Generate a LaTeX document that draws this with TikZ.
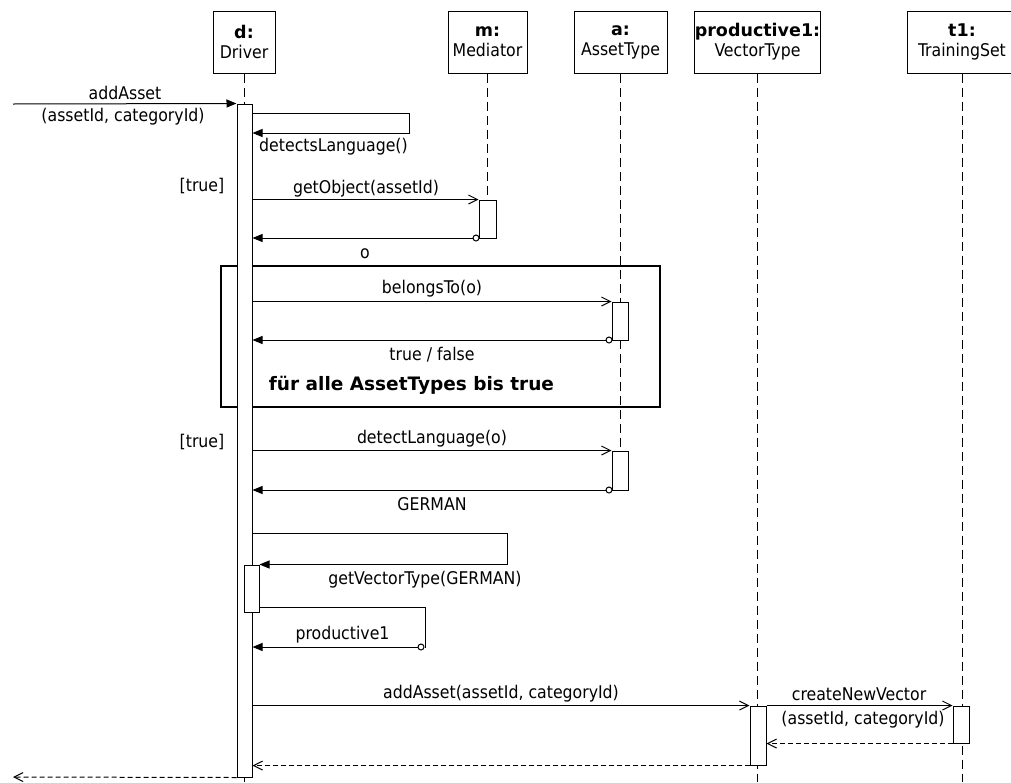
\documentclass[tikz,border=0pt]{standalone}
\usepackage{fontspec}
\setmainfont{DejaVu Sans Condensed}[BoldFont={DejaVu Sans Bold}]
\usetikzlibrary{arrows.meta}

\begin{document}
\begin{tikzpicture}[x=1pt,y=-1pt,
  base/.style={line width=1pt, draw=black},
  obj/.style={base, fill=white, align=center, inner sep=0pt, minimum height=62pt,
    font=\fontsize{17.5}{20}\selectfont},
  bar/.style={base, fill=white, inner sep=0pt},
  lifeline/.style={line width=1pt, dash pattern=on 9pt off 5pt},
  sync/.style={line width=1pt, -{Triangle[length=10pt,width=8pt]}},
  call/.style={line width=1pt, -{Straight Barb[length=9pt,width=9pt,line width=1pt]}},
  ret/.style={line width=1pt, dash pattern=on 5pt off 3pt,
    -{Straight Barb[length=9pt,width=9pt,line width=1pt]}},
  tail/.style={circle, base, fill=white, inner sep=0pt, minimum size=6pt},
  lbl/.style={inner sep=0pt, font=\fontsize{17.5}{20}\selectfont},
  frame/.style={line width=2pt, draw=black, inner sep=0pt}
]
\useasboundingbox (0,0) rectangle (1011,782);
\clip (0,0) rectangle (1011,782);

% participants
\node[obj, minimum width=62pt]  (d) at (244,42)   {\textbf{d:}\\Driver};
\node[obj, minimum width=79pt]  (m) at (487.5,42) {\textbf{m:}\\Mediator};
\node[obj, minimum width=93pt]  (a) at (620.5,42) {\textbf{a:}\\AssetType};
\node[obj, minimum width=126pt] (p) at (757.5,42) {\textbf{productive1:}\\VectorType};
\node[obj, minimum width=110pt] (t) at (962,42)   {\textbf{t1:}\\TrainingSet};

% lifeline ends
\coordinate (dEnd) at (244,782);
\coordinate (mEnd) at (487.5,238);
\coordinate (aEnd) at (620.5,490);
\coordinate (pEnd) at (757.5,782);
\coordinate (tEnd) at (962,782);
\draw[lifeline] (d.south) -- (dEnd);
\draw[lifeline] (m.south) -- (mEnd);
\draw[lifeline] (a.south) -- (aEnd);
\draw[lifeline] (p.south) -- (pEnd);
\draw[lifeline] (t.south) -- (tEnd);

% loop fragment
\node[frame, minimum width=439pt, minimum height=141pt] (loop) at (440.5,336.5) {};
\node[inner sep=0pt, font=\fontsize{18.5}{22}\selectfont\bfseries] (loopTxt) at (411.5,385)
  {für alle AssetTypes bis true};

% activation bars
\node[bar, minimum width=15pt, minimum height=673pt] (dA)  at (244.5,440.5) {};
\node[bar, minimum width=17pt, minimum height=38pt]  (mA)  at (487.5,219) {};
\node[bar, minimum width=16pt, minimum height=38pt]  (aA1) at (620,321) {};
\node[bar, minimum width=16pt, minimum height=39pt]  (aA2) at (620,470.5) {};
\node[bar, minimum width=15pt, minimum height=47pt]  (dN)  at (251.5,588.5) {};
\node[bar, minimum width=16pt, minimum height=59pt]  (pA)  at (758,735.5) {};
\node[bar, minimum width=16pt, minimum height=37pt]  (tA)  at (961,724.5) {};

% incoming call
\coordinate (src) at (13,104);
\draw[sync] (src) -- (dA.north west);
\node[lbl] (l1) at (125,93) {addAsset};
\node[lbl] (l1b) at (123,117) {(assetId, categoryId)};

% self call detectsLanguage
\coordinate (s1) at (409,113);
\coordinate (s1b) at (409,133);
\draw[sync] (dA.east |- s1) -- (s1) -- (s1b) -- (dA.east |- s1b);
\node[lbl, anchor=west] (l2) at (259,147) {detectsLanguage()};

% getObject
\node[lbl] (g1) at (202,186) {[true]};
\draw[call] (dA.east |- mA.north west) -- (mA.north west);
\node[lbl] (l3) at (366,189) {getObject(assetId)};
\node[tail] (r1) at (476,238) {};
\draw[sync] (r1.west) -- (dA.east |- r1);
\node[lbl] (l4) at (365,254) {o};

% belongsTo
\draw[call] (dA.east |- aA1.north west) -- (aA1.north west);
\node[lbl] (l5) at (432,289) {belongsTo(o)};
\node[tail] (r2) at (609,340) {};
\draw[sync] (r2.west) -- (dA.east |- r2);
\node[lbl] (l6) at (432,355) {true / false};

% detectLanguage
\node[lbl] (g2) at (202,442) {[true]};
\draw[call] (dA.east |- aA2.north west) -- (aA2.north west);
\node[lbl] (l7) at (432,439) {detectLanguage(o)};
\node[tail] (r3) at (609,490) {};
\draw[sync] (r3.west) -- (dA.east |- r3);
\node[lbl] (l8) at (432,504) {GERMAN};

% self call getVectorType
\coordinate (s2) at (507,533);
\draw[sync] (dA.east |- s2) -- (s2) |- (dN.north east);
\node[lbl] (l9) at (425,580) {getVectorType(GERMAN)};
\coordinate (s3) at (425,607);
\node[tail] (r4) at (421,647) {};
\draw (dN.east |- s3) -- (s3) |- (r4.east);
\draw[sync] (r4.west) -- (dA.east |- r4);
\node[lbl] (l10) at (342.5,635) {productive1};

% addAsset to productive1
\draw[call] (dA.east |- pA.north west) -- (pA.north west);
\node[lbl] (l11) at (501,694) {addAsset(assetId, categoryId)};
\draw[call] (pA.north east) -- (tA.north west);
\node[lbl] (l12) at (859,694) {createNewVector};
\node[lbl] (l13) at (863,720) {(assetId, categoryId)};
\draw[ret] (tA.south west) -- (pA.east |- tA.south west);
\draw[ret] (pA.south west) -- (dA.east |- pA.south west);

% final return
\coordinate (sink) at (13,777);
\draw[ret] (dA.south west) -- (sink);
\end{tikzpicture}
\end{document}
